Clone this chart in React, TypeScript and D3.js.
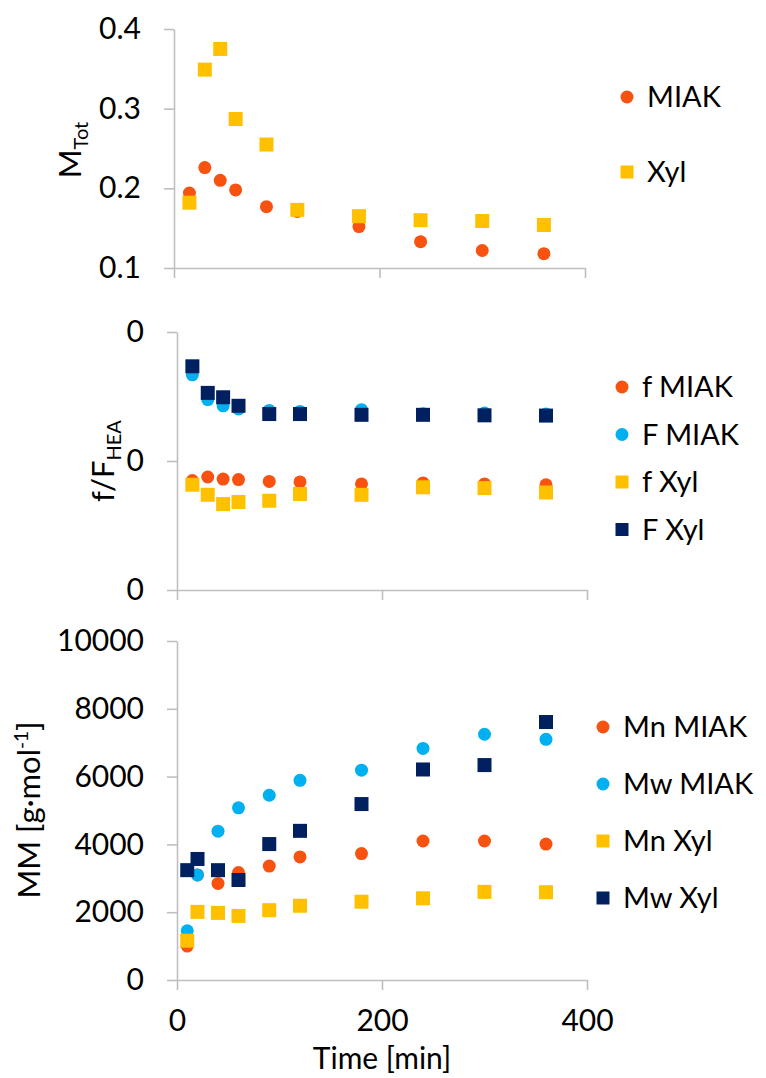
import React, { useEffect, useRef } from "react";
import * as d3 from "d3";

// sample times [min]
const topTimes = [15, 30, 45, 60, 90, 120, 180, 240, 300, 360];
const midTimes = [15, 30, 45, 60, 90, 120, 180, 240, 300, 360];
const bottomTimes = [10, 20, 40, 60, 90, 120, 180, 240, 300, 360];

// top panel: M_Tot
const miakMTot = [0.194, 0.226, 0.21, 0.198, 0.177, 0.171, 0.152, 0.133, 0.122, 0.118];
const xylMTot = [0.182, 0.349, 0.375, 0.287, 0.255, 0.173, 0.165, 0.16, 0.159, 0.154];

// middle panel: f/F_HEA
const fMiak = [0.424, 0.438, 0.43, 0.428, 0.421, 0.419, 0.411, 0.415, 0.411, 0.408];
const FMiak = [0.834, 0.738, 0.714, 0.702, 0.696, 0.692, 0.699, 0.683, 0.686, 0.682];
const fXyl = [0.408, 0.369, 0.333, 0.341, 0.346, 0.372, 0.369, 0.398, 0.395, 0.378];
const FXyl = [0.867, 0.764, 0.747, 0.714, 0.682, 0.682, 0.679, 0.679, 0.677, 0.676];

// bottom panel: molar mass
const mnMiak = [1000, 3100, 2850, 3170, 3360, 3630, 3730, 4100, 4100, 4010];
const mwMiak = [1450, 3100, 4390, 5080, 5450, 5890, 6190, 6830, 7250, 7100];
const mnXyl = [1160, 2010, 1980, 1890, 2060, 2190, 2310, 2410, 2600, 2590];
const mwXyl = [3240, 3570, 3240, 2950, 4010, 4400, 5190, 6210, 6340, 7610];

const xTicks = [0, 200, 400];
const topYTicks = [0.1, 0.2, 0.3, 0.4];
const midYTicks = [0, 0.5, 1];
const midYTickLabels = ["0", "0", "0"];
const bottomYTicks = [0, 2000, 4000, 6000, 8000, 10000];

const ORANGE = "#f7520f";
const CYAN = "#00b0f0";
const GOLD = "#ffc000";
const NAVY = "#002060";
const AXIS = "#bfbfbf";
const FONT = "Lato, 'Open Sans', sans-serif";

export default function App() {
  const ref = useRef(null);

  useEffect(() => {
    const svg = d3.select(ref.current);
    svg.selectAll("*").remove();

    function panel(opts) {
      const x = d3.scaleLinear().domain([0, 400]).range([opts.x0, opts.x1]);
      const y = d3.scaleLinear().domain(opts.yDomain).range([opts.yb, opts.yt]);
      const g = svg.append("g");

      const yAxis = d3.axisLeft(y).tickValues(opts.yTicks).tickSize(10).tickSizeOuter(0).tickPadding(23);
      if (opts.yFormat) yAxis.tickFormat(opts.yFormat);
      else yAxis.tickFormat(d3.format(opts.fmt));
      const ya = g.append("g").attr("transform", `translate(${opts.x0},0)`).call(yAxis);

      const xAxis = d3.axisBottom(x).tickValues(xTicks).tickSize(10).tickSizeOuter(0).tickPadding(20);
      if (!opts.xLabels) xAxis.tickFormat(() => "");
      const xa = g.append("g").attr("transform", `translate(0,${opts.yb})`).call(xAxis);

      [ya, xa].forEach(a => {
        a.attr("font-family", FONT).attr("font-size", 30);
        a.selectAll("path, line").attr("stroke", AXIS).attr("stroke-width", 1.6);
        a.selectAll("text").attr("fill", "#000");
      });

      opts.series.forEach(s => {
        const pts = s.times.map((t, i) => [t, s.values[i]]);
        if (s.shape === "circle") {
          g.append("g").selectAll("circle").data(pts).join("circle")
            .attr("cx", d => x(d[0])).attr("cy", d => y(d[1]))
            .attr("r", 6.5).attr("fill", s.color);
        } else {
          g.append("g").selectAll("rect").data(pts).join("rect")
            .attr("x", d => x(d[0]) - 7).attr("y", d => y(d[1]) - 7)
            .attr("width", 14).attr("height", 14).attr("fill", s.color);
        }
      });

      // legend
      const lg = g.append("g").attr("font-family", FONT).attr("font-size", 29);
      opts.series.forEach((s, i) => {
        const cy = opts.legY + i * opts.legStep;
        if (s.shape === "circle") {
          lg.append("circle").attr("cx", opts.legX).attr("cy", cy).attr("r", 6.5).attr("fill", s.color);
        } else {
          lg.append("rect").attr("x", opts.legX - 6.5).attr("y", cy - 6.5).attr("width", 13).attr("height", 13).attr("fill", s.color);
        }
        lg.append("text").attr("x", opts.legX + 20).attr("y", cy + 10).text(s.name);
      });

      // y title
      const t = g.append("text")
        .attr("transform", `translate(${opts.titleX},${opts.titleY}) rotate(-90)`)
        .attr("text-anchor", "middle").attr("font-family", FONT).attr("font-size", 31);
      opts.title(t);
      return x;
    }

    panel({
      x0: 174, x1: 585, yb: 268, yt: 29, yDomain: [0.1, 0.4], yTicks: topYTicks, fmt: ".1f",
      series: [
        { name: "MIAK", times: topTimes, values: miakMTot, color: ORANGE, shape: "circle" },
        { name: "Xyl", times: topTimes, values: xylMTot, color: GOLD, shape: "square" },
      ],
      legX: 627, legY: 97, legStep: 75,
      titleX: 81, titleY: 150,
      title: t => {
        t.append("tspan").text("M");
        t.append("tspan").attr("font-size", 20).attr("dy", 7).text("Tot");
      },
    });

    panel({
      x0: 177, x1: 587, yb: 590, yt: 332, yDomain: [0, 1], yTicks: midYTicks,
      yFormat: (d, i) => midYTickLabels[i],
      series: [
        { name: "f MIAK", times: midTimes, values: fMiak, color: ORANGE, shape: "circle" },
        { name: "F MIAK", times: midTimes, values: FMiak, color: CYAN, shape: "circle" },
        { name: "f Xyl", times: midTimes, values: fXyl, color: GOLD, shape: "square" },
        { name: "F Xyl", times: midTimes, values: FXyl, color: NAVY, shape: "square" },
      ],
      legX: 622, legY: 387, legStep: 47.5,
      titleX: 114, titleY: 461,
      title: t => {
        t.append("tspan").text("f/F");
        t.append("tspan").attr("font-size", 20).attr("dy", 7).text("HEA");
      },
    });

    panel({
      x0: 177, x1: 587, yb: 980, yt: 641, yDomain: [0, 10000], yTicks: bottomYTicks, fmt: "d",
      xLabels: true,
      series: [
        { name: "Mn MIAK", times: bottomTimes, values: mnMiak, color: ORANGE, shape: "circle" },
        { name: "Mw MIAK", times: bottomTimes, values: mwMiak, color: CYAN, shape: "circle" },
        { name: "Mn Xyl", times: bottomTimes, values: mnXyl, color: GOLD, shape: "square" },
        { name: "Mw Xyl", times: bottomTimes, values: mwXyl, color: NAVY, shape: "square" },
      ],
      legX: 603, legY: 727, legStep: 57,
      titleX: 40, titleY: 810,
      title: t => {
        t.append("tspan").text("MM [g·mol");
        t.append("tspan").attr("font-size", 19).attr("dy", -12).text("-1");
        t.append("tspan").attr("dy", 12).text("]");
      },
    });

    svg.append("text")
      .attr("x", 382).attr("y", 1069).attr("text-anchor", "middle")
      .attr("font-family", FONT).attr("font-size", 30)
      .text("Time [min]");
  }, []);

  return (
    <div style={{ position: "absolute", left: 0, top: 0 }}>
      <svg ref={ref} width={766} height={1078} style={{ display: "block", background: "#fff" }} />
    </div>
  );
}
